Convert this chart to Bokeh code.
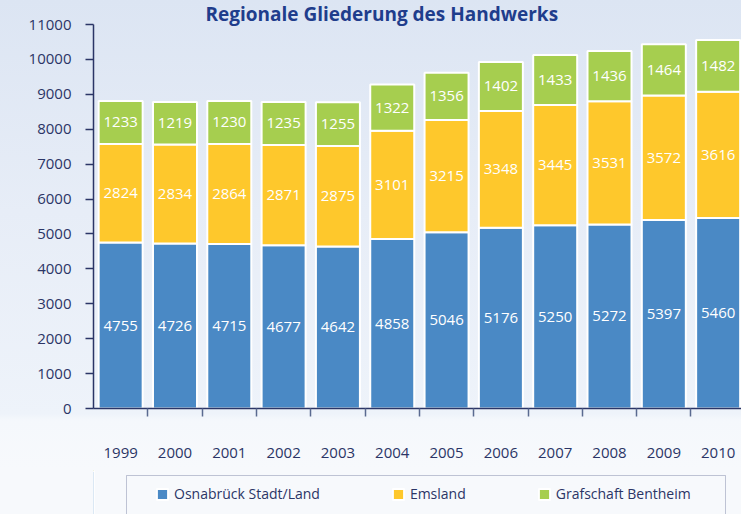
from bokeh.plotting import figure
from bokeh.layouts import column
from bokeh.models import ColumnDataSource, Range1d, FixedTicker, Legend, LegendItem, BoxAnnotation
from bokeh.core.properties import value
from bokeh.embed import file_html
from bokeh.resources import INLINE

years = ["1999", "2000", "2001", "2002", "2003", "2004", "2005", "2006", "2007", "2008", "2009", "2010"]
osnabrueck = [4755, 4726, 4715, 4677, 4642, 4858, 5046, 5176, 5250, 5272, 5397, 5460]
emsland = [2824, 2834, 2864, 2871, 2875, 3101, 3215, 3348, 3445, 3531, 3572, 3616]
bentheim = [1233, 1219, 1230, 1235, 1255, 1322, 1356, 1402, 1433, 1436, 1464, 1482]
series_names = ["Osnabrück Stadt/Land", "Emsland", "Grafschaft Bentheim"]
y_ticks = list(range(0, 11001, 1000))

FONT = "Open Sans"
NAVY = "#2b3566"
BG_LOW = "#f7f9fc"
colors = ["#4a89c5", "#fec82c", "#a6ce4f"]

xs = list(range(len(years)))
b1 = [0] * len(years)
t1 = osnabrueck
b2 = t1
t2 = [a + b for a, b in zip(t1, emsland)]
b3 = t2
t3 = [a + b for a, b in zip(t2, bentheim)]

src = ColumnDataSource(dict(
    x=xs, b1=b1, t1=t1, b2=b2, t2=t2, b3=b3, t3=t3,
    m1=[(a + b) / 2 for a, b in zip(b1, t1)],
    m2=[(a + b) / 2 for a, b in zip(b2, t2)],
    m3=[(a + b) / 2 for a, b in zip(b3, t3)],
    l1=[str(v) for v in osnabrueck],
    l2=[str(v) for v in emsland],
    l3=[str(v) for v in bentheim],
))

p = figure(width=741, height=470,
           x_range=Range1d(-0.5, 11.43), y_range=Range1d(0, 11000),
           output_backend="svg", toolbar_location=None,
           title="Regionale Gliederung des Handwerks",
           min_border_left=93, min_border_right=0, min_border_top=0, min_border_bottom=62,
           border_fill_color=None, background_fill_color=None, outline_line_color=None,
           styles={"background": "linear-gradient(to bottom, #dce5f3 0%, #e7edf7 45%, #eef3fa 88%, #f5f8fc 89.5%, #f7f9fc 100%)"})
p.grid.visible = False

p.title.text_font = FONT
p.title.text_font_size = "19px"
p.title.text_font_style = "bold"
p.title.text_color = "#1f3d8c"
p.title.align = "left"
p.title.offset = 112
p.title.standoff = -4

kw = dict(x="x", width=0.81, source=src, line_color="white", line_width=2)
r1 = p.vbar(bottom="b1", top="t1", fill_color=colors[0], **kw)
r2 = p.vbar(bottom="b2", top="t2", fill_color=colors[1], **kw)
r3 = p.vbar(bottom="b3", top="t3", fill_color=colors[2], **kw)

for m, l in (("m1", "l1"), ("m2", "l2"), ("m3", "l3")):
    p.text(x="x", y=m, text=l, source=src, text_color="white", text_font=value(FONT),
           text_font_size="15px", text_align="center", text_baseline="middle")

# y axis
ya = p.yaxis[0]
ya.ticker = FixedTicker(ticks=y_ticks, minor_ticks=[])
ya.axis_line_color = NAVY
ya.axis_line_width = 1.5
ya.major_tick_line_color = NAVY
ya.major_tick_line_width = 1.5
ya.major_tick_in = 0
ya.major_tick_out = 8
ya.major_label_standoff = 14
ya.major_label_text_font = FONT
ya.major_label_text_font_size = "15px"
ya.major_label_text_color = NAVY

# x axis
xa = p.xaxis[0]
xa.ticker = FixedTicker(ticks=xs, minor_ticks=[i + 0.5 for i in xs[:-1]])
xa.major_label_overrides = {i: y for i, y in zip(xs, years)}
xa.axis_line_color = NAVY
xa.axis_line_width = 1.5
xa.major_tick_line_color = None
xa.major_tick_out = 0
xa.major_tick_in = 0
xa.minor_tick_line_color = "#5a6a90"
xa.minor_tick_line_width = 1.5
xa.minor_tick_in = 0
xa.minor_tick_out = 8
xa.major_label_standoff = 31
xa.major_label_text_font = FONT
xa.major_label_text_font_size = "15px"
xa.major_label_text_color = NAVY

# legend strip below the chart (pixel-like ranges: x 93..741, y 0..44 from the bottom)
p2 = figure(width=741, height=44, x_range=Range1d(93, 741), y_range=Range1d(0, 44),
            output_backend="svg", toolbar_location=None,
            min_border_left=93, min_border_right=0, min_border_top=0, min_border_bottom=0,
            border_fill_color=None, background_fill_color=None, outline_line_color=None,
            styles={"background": BG_LOW})
p2.axis.visible = False
p2.grid.visible = False
p2.add_layout(BoxAnnotation(left=126, right=725, top=39, bottom=-10,
                            fill_alpha=0, line_color="#3a4577", line_width=1))
g1 = p2.vbar(bottom="b1", top="t1", fill_color=colors[0], **kw)
g2 = p2.vbar(bottom="b2", top="t2", fill_color=colors[1], **kw)
g3 = p2.vbar(bottom="b3", top="t3", fill_color=colors[2], **kw)

legend = Legend(items=[LegendItem(label=series_names[0], renderers=[g1]),
                       LegendItem(label=series_names[1], renderers=[g2]),
                       LegendItem(label=series_names[2], renderers=[g3])],
                orientation="horizontal", location=(62, 11),
                spacing=71, padding=0, margin=0,
                glyph_width=14, glyph_height=14, label_standoff=5,
                label_text_font=FONT, label_text_font_size="14px", label_text_color=NAVY,
                border_line_color=None, background_fill_alpha=0)
p2.add_layout(legend)

layout = column(p, p2, spacing=0)
open("out.html", "w").write(file_html(layout, INLINE))
